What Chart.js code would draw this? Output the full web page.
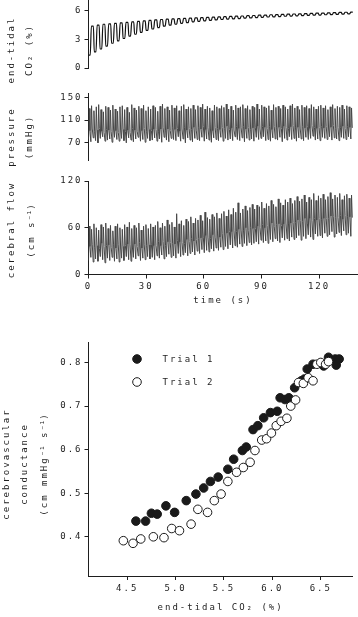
<!DOCTYPE html>
<html>
<head>
<meta charset="utf-8">
<script src="https://cdn.jsdelivr.net/npm/chart.js@4.4.1/dist/chart.umd.min.js"></script>
<style>
  body { margin: 0; background: #fff; width: 358px; height: 617px; position: relative; overflow: hidden; }
  canvas { position: absolute; left: 0; }
</style>
</head>
<body>
<canvas id="co2" width="358" height="86" style="top:0px"></canvas>
<canvas id="pressure" width="358" height="84" style="top:86px"></canvas>
<canvas id="flow" width="358" height="140" style="top:170px"></canvas>
<canvas id="scatter" width="358" height="287" style="top:330px"></canvas>
<script>
// time axis ticks (s)
const timeTicks = [0, 30, 60, 90, 120];
const co2Ticks = [0, 3, 6];
const pressureTicks = [70, 110, 150];
const flowTicks = [0, 60, 120];

// end-tidal CO2, one trough + one peak per breath (%)
const breathPeriod = 3.0;
const co2Trough = [1.35, 1.7, 2.0, 2.3, 2.6, 2.85, 3.1, 3.35, 3.55, 3.75, 3.95, 4.1, 4.25, 4.4, 4.5, 4.6,
  4.7, 4.78, 4.85, 4.9, 4.96, 5.0, 5.05, 5.1, 5.13, 5.17, 5.2, 5.24, 5.27, 5.3, 5.33,
  5.36, 5.38, 5.41, 5.44, 5.46, 5.48, 5.5, 5.53, 5.55, 5.57, 5.6, 5.62, 5.64, 5.66, 5.7];
const co2Peak = [4.4, 4.5, 4.6, 4.65, 4.7, 4.75, 4.8, 4.85, 4.9, 4.95, 5.0, 5.05, 5.1, 5.13, 5.16, 5.2,
  5.22, 5.25, 5.27, 5.3, 5.32, 5.35, 5.37, 5.4, 5.42, 5.45, 5.47, 5.5, 5.52, 5.55, 5.57,
  5.6, 5.62, 5.64, 5.66, 5.68, 5.7, 5.72, 5.74, 5.76, 5.78, 5.8, 5.82, 5.84, 5.86, 5.88];

// arterial pressure, per beat (mmHg)
const beatPeriod = 1.23;
const pressureSys = [
  131,136,127,134,138,129,125,135,133,128,137,130,126,134,
  136,129,133,124,138,132,128,135,131,137,127,134,130,136,
  133,126,135,139,131,134,128,137,132,136,127,135,138,130,
  134,131,137,129,136,133,139,130,135,132,127,137,134,131,
  136,133,139,130,135,128,137,132,134,138,131,136,129,135,
  133,139,130,137,134,132,136,128,138,133,135,131,137,134,
  130,136,139,132,135,129,137,133,136,131,138,134,130,135,
  137,132,136,129,134,138,131,135,133,137,130,136,134,132];
const pressureNotch = [
  91,94,89,92,95,90,88,93,92,89,94,91,88,92,
  93,90,92,88,95,92,90,94,91,95,89,93,91,94,
  93,90,94,96,92,94,91,96,93,95,90,94,96,92,
  95,93,97,92,96,94,98,93,96,94,91,97,95,93,
  97,95,99,93,96,92,98,95,96,99,94,97,93,96,
  96,99,94,98,97,95,98,93,99,96,97,95,99,97,
  95,98,100,96,97,94,99,96,98,95,100,97,95,97,
  99,96,98,94,97,100,95,97,96,99,95,98,97,96];
const pressureDia = [
  75,71,78,73,69,77,80,72,74,76,70,79,75,72,
  77,73,69,78,74,71,76,79,72,75,70,77,73,74,
  78,72,76,70,79,74,71,77,75,73,80,72,76,69,
  78,74,71,77,75,73,79,72,76,74,70,78,75,73,
  79,72,77,74,76,73,80,75,73,78,71,77,74,76,
  72,79,75,77,80,73,75,72,78,76,74,79,71,77,
  74,80,75,77,72,78,76,73,79,75,77,81,74,76,
  73,79,77,75,80,74,78,76,73,79,77,75,80,76];

// cerebral flow velocity, per beat (cm/s)
const flowSys = [
  62,58,65,60,57,64,61,66,59,63,56,62,65,60,
  58,64,61,67,59,63,60,66,57,62,64,59,65,61,
  63,68,60,66,62,70,64,67,61,78,65,69,63,71,
  68,74,66,72,70,76,69,80,73,71,77,74,79,72,
  78,81,75,83,77,85,80,92,79,84,88,82,86,90,
  84,89,87,93,85,91,88,95,90,87,97,92,89,96,
  93,98,91,95,100,94,97,102,93,99,96,104,95,101,
  98,103,96,100,105,97,102,99,104,96,101,103,98,102];
const flowNotch = [
  36,38,35,37,33,40,36,37,38,35,39,34,38,34,
  36,37,39,38,34,39,36,41,34,38,37,38,39,37,
  37,42,37,42,37,42,41,40,39,44,42,41,40,45,
  42,46,43,45,46,47,47,50,48,46,51,48,52,48,
  53,52,53,55,55,56,55,58,57,56,60,56,60,59,
  59,62,60,64,60,63,61,66,62,64,65,63,65,66,
  66,66,67,67,70,69,68,72,66,72,69,72,70,72,
  71,72,72,72,75,74,73,73,76,71,76,74,74,73];
const flowDia = [
  18,22,16,20,17,23,19,15,21,18,22,17,20,16,
  21,18,23,19,17,22,20,24,18,21,19,23,20,22,
  19,24,21,25,20,23,26,22,24,21,27,23,25,28,
  24,27,29,25,30,27,32,28,31,29,33,30,34,31,
  35,32,36,33,38,34,37,35,39,36,40,37,41,38,
  40,42,39,44,41,43,40,45,42,46,43,41,47,44,
  46,43,48,45,47,50,44,49,46,51,48,45,52,49,
  50,47,53,49,51,55,48,52,54,50,56,51,53,49];

// conductance vs end-tidal CO2
const etco2Ticks = [4.5, 5.0, 5.5, 6.0, 6.5];
const cvcTicks = [0.4, 0.5, 0.6, 0.7, 0.8];
const trial1CO2 = [4.59,4.69,4.75,4.81,4.90,4.99,5.11,5.21,5.29,5.36,5.44,5.54,5.60,5.69,5.73,5.80,5.85,
  5.91,5.98,6.05,6.08,6.13,6.17,6.23,6.30,6.33,6.36,6.42,6.53,6.58,6.65,6.66,6.69];
const trial1CVC = [0.436,0.436,0.454,0.452,0.471,0.456,0.483,0.498,0.512,0.527,0.537,0.555,0.578,0.598,0.606,
  0.646,0.655,0.673,0.685,0.688,0.719,0.715,0.719,0.742,0.758,0.762,0.785,0.796,0.792,0.812,0.808,0.794,0.808];
const trial2CO2 = [4.46,4.56,4.64,4.77,4.88,4.96,5.04,5.16,5.23,5.33,5.40,5.47,5.54,5.63,5.70,5.77,5.82,
  5.89,5.94,5.99,6.04,6.09,6.15,6.19,6.24,6.27,6.32,6.37,6.42,6.46,6.50,6.55,6.58];
const trial2CVC = [0.391,0.385,0.395,0.400,0.398,0.419,0.414,0.429,0.463,0.456,0.483,0.498,0.527,0.548,0.559,
  0.571,0.598,0.622,0.625,0.638,0.655,0.665,0.672,0.700,0.714,0.754,0.752,0.765,0.758,0.796,0.800,0.796,0.802];

const FONT = { family: "'DejaVu Sans Mono', monospace", size: 9 };
const INK = '#1e1e1e';

// build line points from the per-breath / per-beat arrays
function co2Points() {
  const pts = [];
  co2Trough.forEach((lo, i) => {
    const t0 = i * breathPeriod;
    pts.push({ x: t0, y: lo }, { x: t0 + 0.3 * breathPeriod, y: lo },
      { x: t0 + 0.5 * breathPeriod, y: co2Peak[i] }, { x: t0 + 0.85 * breathPeriod, y: co2Peak[i] });
  });
  return pts;
}
function beatPoints(dia, sys, notch) {
  const pts = [];
  dia.forEach((d, i) => {
    const t0 = i * beatPeriod;
    pts.push({ x: t0, y: d }, { x: t0 + 0.3 * beatPeriod, y: sys[i] }, { x: t0 + 0.6 * beatPeriod, y: notch[i] });
  });
  return pts;
}
function zip(xs, ys) { return xs.map((x, i) => ({ x: x, y: ys[i] })); }

// spaced-out monospace look
const spacing = { id: 'spacing', beforeDraw(chart) { chart.ctx.letterSpacing = '2px'; } };

// rotated axis titles; superscripts are drawn without the extra spacing
function yTitles(lines, xs, cy) {
  return {
    id: 'yTitles',
    afterDraw(chart) {
      const ctx = chart.ctx;
      ctx.save();
      ctx.font = FONT.size + 'px ' + FONT.family;
      ctx.fillStyle = INK;
      ctx.textAlign = 'left';
      ctx.textBaseline = 'middle';
      lines.forEach((txt, i) => {
        const parts = txt.split(/(\u207B\u00B9)/);
        const widths = parts.map(p => {
          ctx.letterSpacing = p === '\u207B\u00B9' ? '0px' : '2px';
          return ctx.measureText(p).width;
        });
        let pos = -widths.reduce((a, b) => a + b, 0) / 2;
        ctx.save();
        ctx.translate(xs[i], cy);
        ctx.rotate(-Math.PI / 2);
        parts.forEach((p, k) => {
          ctx.letterSpacing = p === '\u207B\u00B9' ? '0px' : '2px';
          ctx.fillText(p, pos, 0);
          pos += widths[k];
        });
        ctx.restore();
      });
      ctx.restore();
    }
  };
}

function yScale(min, max, ticks, fmt) {
  return {
    type: 'linear', min: min, max: max,
    afterBuildTicks: s => { s.ticks = ticks.map(v => ({ value: v })); },
    afterFit: s => { s.width = 88.5; s.paddingTop = 0; s.paddingBottom = 0; },
    border: { display: true, color: INK, width: 1 },
    grid: { drawOnChartArea: false, drawTicks: true, tickLength: 4, color: INK },
    ticks: { font: FONT, color: INK, padding: 2, callback: fmt || (v => v) }
  };
}
function xScale(min, max, ticks, title, height, fmt) {
  return {
    type: 'linear', min: min, max: max,
    afterBuildTicks: s => { s.ticks = ticks.map(v => ({ value: v })); },
    afterFit: s => { s.height = height; s.paddingLeft = 0; s.paddingRight = 0; },
    border: { display: true, color: INK, width: 1 },
    grid: { drawOnChartArea: false, drawTicks: true, tickLength: 4, color: INK },
    ticks: { font: FONT, color: INK, padding: 3, maxRotation: 0, autoSkip: false, callback: fmt || (v => v) },
    title: { display: true, text: title, font: FONT, color: INK, padding: { top: 0, bottom: 4 } }
  };
}
const hiddenTime = { type: 'linear', min: 0, max: 140, display: false };

const base = {
  responsive: false, animation: false, events: [],
  plugins: { legend: { display: false }, tooltip: { enabled: false } },
  elements: { point: { radius: 0 } }
};

new Chart(document.getElementById('co2'), {
  type: 'line',
  data: { datasets: [{ data: co2Points(), borderColor: '#111', borderWidth: 1.2, cubicInterpolationMode: 'monotone', pointRadius: 0 }] },
  options: Object.assign({}, base, {
    layout: { padding: { top: 0, right: 0.5, bottom: 18, left: 0 } },
    scales: { x: hiddenTime, y: yScale(0, 7.15, co2Ticks) }
  }),
  plugins: [spacing, yTitles(['end-tidal', 'CO\u2082 (%)'], [12, 30], 50)]
});

new Chart(document.getElementById('pressure'), {
  type: 'line',
  data: { datasets: [{ data: beatPoints(pressureDia, pressureSys, pressureNotch), borderColor: '#474747', borderWidth: 1, pointRadius: 0 }] },
  options: Object.assign({}, base, {
    layout: { padding: { top: 7, right: 0.5, bottom: 10, left: 0 } },
    scales: { x: hiddenTime, y: yScale(38, 159, pressureTicks) }
  }),
  plugins: [spacing, yTitles(['pressure', '(mmHg)'], [12, 30], 51)]
});

new Chart(document.getElementById('flow'), {
  type: 'line',
  data: { datasets: [{ data: beatPoints(flowDia, flowSys, flowNotch), borderColor: '#474747', borderWidth: 1, pointRadius: 0 }] },
  options: Object.assign({}, base, {
    layout: { padding: { top: 11, right: 0.5, bottom: 0, left: 0 } },
    scales: { x: xScale(0, 140, timeTicks, 'time (s)', 35.5), y: yScale(0, 120, flowTicks) }
  }),
  plugins: [spacing, yTitles(['cerebral flow', '(cm s\u207B\u00B9)'], [12, 32], 60)]
});

// legend inside the plot area
const trialLegend = {
  id: 'trialLegend',
  afterDraw(chart) {
    const ctx = chart.ctx;
    const a = chart.chartArea;
    ctx.save();
    chart.data.datasets.forEach((ds, i) => {
      const y = a.top + 17 + i * 23;
      ctx.beginPath();
      ctx.arc(a.left + 48.5, y, ds.pointRadius, 0, Math.PI * 2);
      ctx.fillStyle = ds.backgroundColor;
      ctx.fill();
      ctx.lineWidth = ds.borderWidth;
      ctx.strokeStyle = ds.borderColor;
      ctx.stroke();
      ctx.font = FONT.size + 'px ' + FONT.family;
      ctx.fillStyle = INK;
      ctx.textAlign = 'left';
      ctx.textBaseline = 'middle';
      ctx.fillText(ds.label, a.left + 74, y + 1);
    });
    ctx.restore();
  }
};

new Chart(document.getElementById('scatter'), {
  type: 'scatter',
  data: {
    datasets: [
      { label: 'Trial 1', data: zip(trial1CO2, trial1CVC), pointRadius: 4.3, backgroundColor: '#1a1a1a', borderColor: '#1a1a1a', borderWidth: 1, order: 1 },
      { label: 'Trial 2', data: zip(trial2CO2, trial2CVC), pointRadius: 4.3, backgroundColor: '#ffffff', borderColor: '#1a1a1a', borderWidth: 1, order: 0 }
    ]
  },
  options: Object.assign({}, base, {
    layout: { padding: { top: 12, right: 0.5, bottom: 0, left: 0 } },
    scales: {
      x: xScale(4.1, 6.83, etco2Ticks, 'end-tidal CO\u2082 (%)', 41, v => v.toFixed(1)),
      y: yScale(0.31, 0.847, cvcTicks, v => v.toFixed(1))
    }
  }),
  plugins: [spacing, trialLegend, yTitles(['cerebrovascular', 'conductance', '(cm mmHg\u207B\u00B9 s\u207B\u00B9)'], [7, 25, 45], 134)]
});
</script>
</body>
</html>
